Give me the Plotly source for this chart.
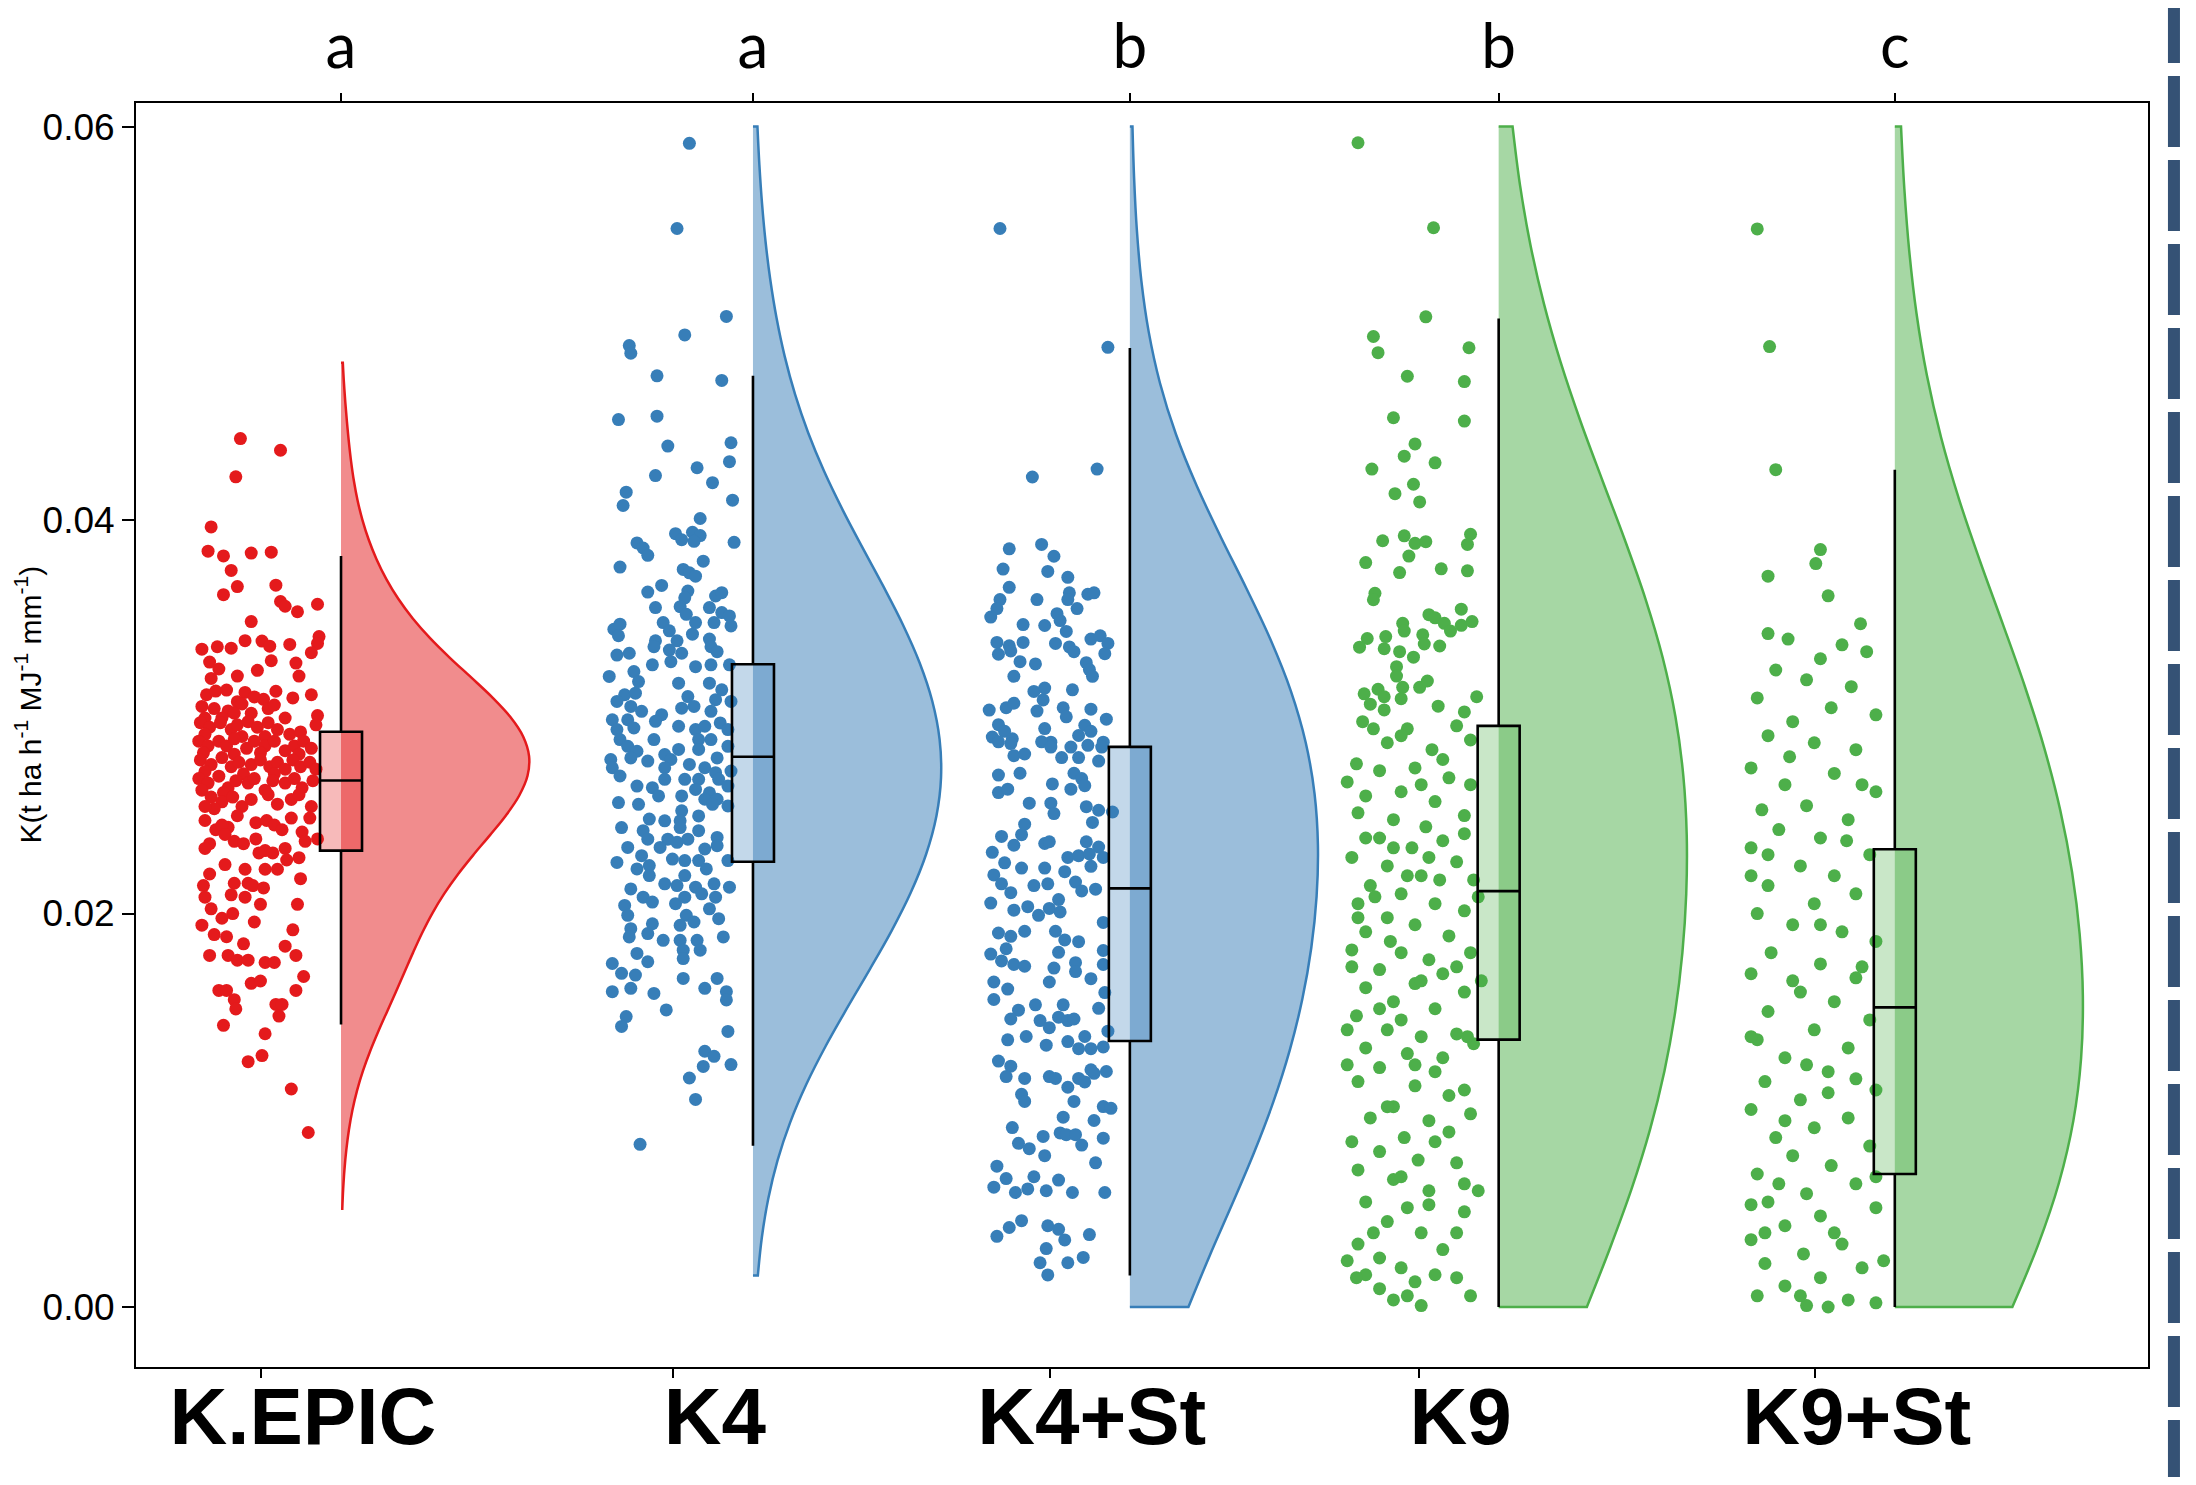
import plotly.graph_objects as go

# ---------------- data ----------------
groups = ["K.EPIC", "K4", "K4+St", "K9", "K9+St"]
letters = ["a", "a", "b", "b", "c"]

kepic_vals = [0.04414,0.04355,0.04220,0.03965,0.03842,0.03818,0.03832,0.03837,0.03744,0.03662,0.03621,0.03669,0.03586,0.03562,0.03534,0.03572,0.03484,0.03408,0.03373,0.03326,0.03344,0.03356,0.03349,0.03387,0.03385,0.03359,0.03368,0.03278,0.03285,0.03236,0.03273,0.03207,0.03243,0.03207,0.03195,
0.03112,0.03131,0.03136,0.03124,0.03089,0.03130,0.03096,0.03112,0.03077,0.03101,
0.03053,0.03042,0.03030,0.03065,0.03018,0.03042,0.03060,0.02994,0.03006,0.02994,0.02994,0.03018,
0.02970,0.02947,0.02970,0.02935,0.02959,0.02975,0.02947,0.02970,0.02935,0.02911,0.02923,0.02959,0.02911,0.02900,0.02900,
0.02876,0.02852,0.02876,0.02852,0.02888,0.02840,0.02876,0.02852,0.02876,0.02828,0.02852,0.02876,0.02840,0.02817,0.02810,0.02817,0.02810,
0.02781,0.02757,0.02793,0.02746,0.02769,0.02757,0.02781,0.02746,0.02769,0.02734,0.02781,0.02746,0.02769,0.02734,0.02722,0.02710,0.02710,
0.02686,0.02663,0.02698,0.02639,0.02675,0.02663,0.02686,0.02627,0.02675,0.02663,0.02686,0.02639,0.02675,0.02627,0.02615,
0.02592,0.02568,0.02592,0.02544,0.02580,0.02604,0.02556,0.02580,0.02604,0.02544,0.02533,0.02544,
0.02473,0.02426,0.02438,0.02497,0.02462,0.02473,0.02450,0.02426,0.02485,0.02485,0.02414,0.02450,
0.02355,0.02402,0.02367,0.02355,0.02379,0.02320,0.02331,0.02367,0.02379,0.02331,
0.02249,0.02225,0.02308,0.02308,0.02272,0.02284,0.02201,0.02142,0.02154,0.02154,0.02225,0.02225,0.02142,0.02130,0.02177,
0.02083,0.02095,0.02083,0.02047,0.02047,0.02024,0.02000,0.01957,0.01976,0.01941,0.01893,0.01882,0.01917,0.01834,0.01846,
0.01787,0.01787,0.01763,0.01763,0.01751,0.01751,0.01787,0.01645,0.01657,0.01680,0.01609,0.01609,0.01562,0.01515,0.01538,0.01538,0.01479,0.01609,0.01432,
0.01389,0.01278,0.01247,0.01108,0.00887]
kepic_jit = [.36,.62,.33,.17,.15,.25,.43,.56,.30,.34,.25,.59,.62,.65,.73,.86,.43,.87,.86,.82,.11,.21,.30,.39,.50,.55,.68,.16,.56,.47,.72,.74,.22,.34,.17,
.14,.20,.27,.39,.51,.59,.70,.82,.34,.45,
.11,.19,.28,.37,.43,.54,.58,.65,.86,.13,.24,.32,
.10,.16,.23,.30,.34,.41,.47,.54,.60,.68,.75,.85,.13,.37,.52,
.09,.15,.22,.27,.32,.40,.45,.52,.58,.65,.71,.77,.82,.12,.32,.49,.74,
.10,.17,.24,.30,.35,.43,.49,.55,.60,.65,.70,.75,.81,.85,.13,.38,.58,
.09,.15,.22,.28,.33,.41,.45,.52,.57,.65,.71,.76,.83,.11,.25,
.17,.24,.31,.37,.43,.54,.60,.69,.74,.82,.19,.13,
.13,.20,.28,.34,.46,.53,.58,.63,.69,.81,.76,.24,
.16,.26,.32,.38,.46,.52,.65,.78,.86,.13,
.26,.39,.48,.57,.66,.74,.16,.12,.32,.41,.52,.60,.44,.51,.75,
.13,.30,.39,.49,.73,.17,.31,.45,.24,.11,.19,.27,.70,.65,.38,
.16,.28,.34,.41,.52,.58,.72,.43,.49,.77,.22,.27,.32,.33,.59,.63,.61,.72,.25,
.52,.50,.41,.69,.80]

k4_vals = [0.05915,0.05482,0.05035,0.04941,0.04887,0.04848,0.04733,0.04710,0.04511,0.04528,0.04376,0.04393,0.04297,0.04226,0.04266,0.04190,0.04142,0.04074,0.04101,0.04008,0.03931,0.03900,0.03938,0.03921,0.03892,0.03884,0.03858,0.03821,0.03887,0.03761,0.03791,0.03749,0.03732,0.03715,0.03634,0.03668,0.03639,0.03605,0.03614,0.03631,0.03555,0.03560,0.03521,0.03555,0.03530,0.03513,0.03479,0.03462,0.03479,0.03479,0.03445,0.03471,0.03412,0.03437,0.03420,0.03386,0.03386,0.03395,
0.03314,0.03323,0.03356,0.03339,0.03323,0.03356,0.03331,0.03264,0.03280,0.03255,0.03264,0.03264,0.03205,0.03230,0.03179,0.03171,0.03171,0.03137,0.03112,0.03120,0.03103,0.03087,0.03078,0.03078,0.03053,0.03028,0.03011,0.03044,0.03053,0.03028,0.02985,0.02985,0.02977,0.02952,0.02935,0.02952,0.02969,0.02935,0.02935,0.02943,0.02884,0.02884,0.02884,0.02884,0.02850,0.02850,0.02825,0.02808,0.02834,0.02834,0.02791,0.02783,0.02791,0.02775,0.02783,0.02758,0.02741,0.02741,0.02741,0.02724,0.02716,0.02699,0.02648,0.02640,0.02682,0.02682,0.02682,0.02682,0.02648,0.02598,0.02598,0.02631,0.02614,0.02564,0.02555,0.02581,0.02581,0.02547,0.02522,0.02496,0.02480,0.02471,0.02471,0.02555,0.02437,0.02421,0.02421,0.02437,0.02378,0.02378,0.02378,0.02387,0.02336,0.02336,0.02362,0.02328,0.02345,0.02294,0.02277,0.02269,0.02269,0.02269,0.02260,0.02227,0.02244,0.02227,0.02193,0.02151,0.02142,0.02193,0.02134,0.02151,0.02134,0.02125,0.02083,0.02058,0.02050,0.02083,0.02100,0.02083,0.02041,0.02024,0.01991,0.01974,0.01991,0.01923,0.01948,0.01940,0.01957,0.01898,0.01864,0.01864,0.01864,0.01881,0.01881,0.01814,0.01814,0.01797,0.01746,0.01755,0.01771,0.01696,0.01687,0.01670,0.01670,0.01603,0.01620,0.01594,0.01620,0.01603,0.01561,0.01510,0.01476,0.01426,0.01401,0.01300,0.01274,0.01223,0.01232,0.01164,0.01055,0.00827]
k4_jit = [.60,.52,.84,.57,.21,.22,.39,.81,.14,.39,.46,.87,.86,.38,.65,.75,.19,.17,.88,.67,.51,.55,.62,.67,.63,.26,.30,.33,.89,.15,.69,.56,.60,.64,.33,.42,.59,.57,.77,.81,.38,.54,.58,.73,.81,.86,.76,.87,.43,.64,.11,.15,.14,.47,.62,.38,.52,.73,
.13,.21,.37,.47,.55,.74,.78,.36,.48,.64,.74,.86,.08,.24,.27,.53,.73,.81,.18,.25,.59,.77,.87,.13,.22,.29,.42,.55,.63,.74,.10,.20,.38,.53,.64,.70,.80,.85,.13,.24,.15,.37,.66,.74,.85,.20,.26,.44,.53,.66,.78,.09,.22,.33,.48,.60,.70,.10,.44,.87,.77,.15,.26,.36,.44,.57,.66,.79,.85,.40,.55,.64,.73,.14,.27,.70,.78,.85,.55,.66,.34,.44,.54,.75,.16,.30,.66,.54,.33,.46,.59,.78,.20,.41,.52,.70,.78,.29,.49,.57,.66,.85,.13,.26,.34,.71,.34,.44,.52,.57,.64,.76,.86,.22,.30,.36,.51,.57,.68,.77,.18,.73,.20,.79,.58,.22,.36,.54,.63,.33,.43,.54,.65,.82,.21,.56,.67,.26,.10,.33,.56,.16,.25,.56,.78,.10,.22,.37,.70,.84,.84,.45,.19,.16,.85,.70,.76,.69,.87,.60,.64,.28]

k4st_vals = [0.05482,0.04878,0.04259,0.04219,0.03854,0.03876,0.03816,0.03751,0.03739,0.03709,0.03658,0.03630,0.03623,0.03630,0.03596,0.03596,0.03596,0.03550,0.03550,0.03507,0.03524,0.03489,0.03469,0.03464,0.03434,0.03378,0.03361,0.03378,0.03373,0.03355,0.03331,0.03395,0.03412,0.03373,0.03321,0.03318,0.03335,0.03280,0.03269,0.03275,0.03240,0.03206,0.03206,0.03129,0.03146,0.03086,0.03137,0.03034,0.03046,0.03069,0.03029,0.03046,0.03000,0.03039,0.02988,0.02960,0.02926,0.02888,0.02940,0.02905,0.02957,0.02926,0.02897,0.02871,0.02871,
.02873,.02864,.02873,.02846,.02846,.02855,.02846,.02802,.02811,.02793,.02793,.02775,.02713,.02704,.02713,.02686,.02659,.02615,.02632,.02632,.02650,.02561,.02561,.02543,.02525,.02516,.02508,.02463,.02454,.02401,.02392,.02311,.02347,.02356,.02365,.02365,.02338,.02285,.02294,.02303,.02285,.02258,.02231,.02231,.02213,.02240,.02196,.02151,.02106,.02142,.02151,.02160,.02115,.02124,.02071,.02053,.02017,.02035,.01991,.02026,.02008,.01955,.01901,.01884,.01910,.01910,.01866,.01857,.01821,.01794,.01803,.01812,.01759,.01741,.01732,.01723,.01750,.01741,.01705,.01669,.01652,.01652,.01616,.01563,.01598,.01509,.01536,.01536,.01518,.01464,.01456,.01420,.01473,.01456,.01464,.01402,.01358,.01375,.01331,.01349,.01375,.01313,.01313,.01322,.01250,.01224,.01171,.01162,.01171,.01162,.01117,.01162,.01144,.01188,.01197,.01206,.01081,.01045,.01045,.01019,.01010,.00965,.00948,.00912,.00832,.00805,.00867,.00769,.00885,.00876,.00876,.00823,.00858,.00733,.00716,.00653,.00609,.00582,.00600,.00662,.00591,.00645,.00582,.00582,.00359,.00404,.00439,.00413,.00395,.00341,.00368,.00297,.00225,.00225,.00252,.00163]
k4st_jit = [.17,.87,.80,.38,.23,.44,.52,.19,.48,.61,.23,.62,.74,.78,.17,.41,.61,.67,.15,.11,.54,.56,.32,.46,.60,.15,.23,.32,.53,.62,.65,.76,.82,.87,.85,.16,.24,.30,.40,.73,.75,.77,.26,.39,.46,.45,.64,.10,.21,.26,.41,.58,.60,.76,.86,.16,.20,.25,.46,.68,.72,.76,.12,.50,.84,
.16,.24,.44,.50,.63,.74,.83,.26,.33,.57,.68,.81,.30,.16,.65,.70,.51,.16,.22,.63,.72,.36,.50,.73,.81,.90,.52,.77,.33,.31,.18,.12,.26,.46,.49,.73,.81,.61,.68,.75,.84,.20,.31,.46,.59,.76,.13,.18,.24,.39,.48,.66,.70,.79,.55,.11,.26,.35,.42,.49,.56,.84,.16,.24,.33,.53,.59,.68,.21,.11,.55,.84,.18,.26,.33,.52,.66,.84,.66,.76,.49,.13,.22,.13,.85,.29,.40,.58,.81,.24,.43,.49,.55,.61,.65,.87,.22,.34,.47,.61,.72,.68,.76,.84,.16,.24,.21,.33,.49,.53,.61,.68,.72,.78,.86,.76,.31,.33,.65,.84,.89,.58,.78,.25,.29,.36,.45,.46,.56,.60,.66,.70,.84,.79,.15,.21,.13,.27,.35,.39,.47,.55,.64,.85,.15,.23,.31,.48,.55,.59,.75,.47,.43,.61,.71,.48]

k9_vals = [.05918,.05486,.05033,.04933,.04851,.04876,.04731,.04704,.04520,.04503,.04387,.04325,.04291,.04259,.04182,.04134,.04092,.03895,.03920,.03882,.03890,.03928,.03876,.03784,.03817,.03733,.03752,.03742,.03628,.03595,.03519,.03503,.03547,.03475,.03436,.03465,.03484,.03475,.03436,.03398,.03354,.03408,.03346,.03417,.03370,.03360,.03331,.03303,.03255,.03207,.03117,.03140,.03102,.03150,.03092,.03150,.03182,.03054,.03102,.03064,.03035,.03025,
.02975,.02939,.02954,.02868,.02833,.02882,.02761,.02726,.02740,.02690,.02619,.02598,.02655,.02569,.02512,.02477,.02441,.02498,.02384,.02370,.02334,.02285,.02242,.02263,.02192,.02142,.02171,.02100,.02050,.02050,.02014,.01979,.01943,.01907,.01886,.01815,.01801,.01765,.01801,.01715,.01694,.01623,.01644,.01601,.01552,.01516,.01480,.01409,.01374,.01388,.01317,.01288,.01338,.01217,.01196,.01146,.01124,.01103,.01018,.00961,.00947,.00890,.00861,.00790,.00747,.00697,.00733,.00648,.00591,.00534,.00505,.00484,.00434,.00377,.00320,.00292,.00249,.00199,.00164,.00128,.00149,.00093,.00149,.00036,.00007,.00057,
.02904,.02783,.02669,.02406,.02285,.02085,.02085,.02192,.01729,.01729,.01459,.01267,.01231,.00982,.00840,.00840,.00591,.00377,.00164,.00235,.00057,.02939,.02655,.02334,.01979,.01658,.01516,.01075,.00662,.00377,.01018,.01374,.01231,.02384,.02171,.01858,.01658,.01409,.00520,.00626]
k9_jit = [.10,.59,.54,.20,.23,.82,.42,.79,.33,.79,.47,.40,.60,.19,.46,.34,.50,.26,.40,.47,.54,.83,.81,.15,.43,.37,.64,.81,.21,.20,.56,.60,.77,.66,.70,.77,.84,.39,.40,.16,.11,.28,.27,.52,.53,.63,.37,.46,.35,.35,.14,.23,.27,.39,.38,.50,.55,.62,.87,.18,.27,.79,
.13,.42,.74,.29,.58,.83,.09,.24,.47,.69,.38,.15,.83,.60,.10,.33,.54,.79,.24,.65,.45,.06,.29,.74,.51,.18,.85,.38,.10,.60,.79,.29,.47,.15,.69,.06,.38,.56,.83,.24,.65,.15,.47,.79,.33,.60,.09,.29,.51,.74,.15,.42,.85,.24,.60,.10,.47,.79,.33,.18,.56,.69,.40,.24,.49,.10,.74,.33,.56,.15,.42,.79,.29,.51,.10,.65,.24,.38,.15,.47,.74,.24,.09,.33,.51,.42,
.38,.65,.03,.79,.56,.88,.21,.42,.06,.74,.38,.65,.03,.83,.06,.60,.88,.74,.60,.03,.83,.20,.51,.33,.10,.51,.24,.69,.38,.20,.29,.81,.47,.15,.63,.31,.90,.03,.56,.79]

k9st_vals = [.05480,.04882,.04256,.03850,.03779,.03715,.03615,.03473,.03423,.03395,.03366,.03295,.03331,.03238,.03188,.03153,.03096,.03046,.03010,.02975,.02904,.02868,.02833,.02740,.02712,.02655,.02619,.02548,.02527,.02477,.02427,.02384,.02334,.02299,.02242,.02192,.02142,.02100,.02050,.02000,.01943,.01907,.01858,.01801,.01744,.01694,.01673,.01601,.01552,.01502,.01459,.01409,.01359,.01317,.01267,.01196,.01146,.01103,.01053,.01004,.00961,.00911,.00861,.00818,.00769,.00719,.00676,.00626,.00576,.00534,.00505,.00463,.00413,.00342,.00320,.00270,.00221,.00199,.00149,.00107,.00057,.00036,.00007,.0,.00021,
.02797,.02655,.02299,.01943,.01658,.01729,.01374,.01089,.00947,.00662,.00520,.00377,.00057,.02370,.02192,.01231,.01160,.00626,.00235,.00377]
k9st_jit = [.12,.20,.24,.53,.50,.19,.58,.79,.19,.32,.67,.53,.83,.24,.44,.73,.12,.60,.89,.35,.19,.49,.76,.08,.62,.30,.89,.44,.15,.71,.26,.53,.08,.85,.40,.62,.19,.76,.49,.12,.35,.67,.89,.21,.53,.08,.76,.40,.62,.19,.85,.49,.12,.71,.30,.58,.17,.89,.40,.08,.71,.49,.24,.85,.35,.60,.12,.76,.44,.19,.89,.53,.30,.08,.67,.42,.17,.80,.53,.30,.12,.71,.44,.58,.89,
.33,.80,.19,.53,.35,.80,.08,.58,.30,.89,.08,.62,.40,.70,.08,.44,.76,.26,.94,.17]

point_vals = [kepic_vals, k4_vals, k4st_vals, k9_vals, k9st_vals]
point_jit = [kepic_jit, k4_jit, k4st_jit, k9_jit, k9st_jit]

# box statistics
box_q1 = [0.02320, 0.02263, 0.01352, 0.01359, 0.00676]
box_med = [0.02676, 0.02797, 0.02128, 0.02114, 0.01523]
box_q3 = [0.02924, 0.03267, 0.02847, 0.02954, 0.02327]
box_lo = [0.01436, 0.00819, 0.00160, 0.00000, 0.00000]
box_hi = [0.03817, 0.04733, 0.04875, 0.05025, 0.04256]
# extent of each density cloud
violin_lo = [0.0050, 0.0016, 0.0, 0.0, 0.0]
violin_hi = [0.0480, 0.0600, 0.0600, 0.0600, 0.0600]
violin_bw = [0.0030, 0.0060, 0.0080, 0.0090, 0.0095]

# ---------------- styling / layout ----------------
line_colors = ["#e41a1c", "#377eb8", "#377eb8", "#4daf4a", "#4daf4a"]
rgb = ["228,26,28", "55,126,184", "55,126,184", "77,175,74", "77,175,74"]
cat_pos = [0.0, 1.069, 2.047, 3.004, 4.032]   # group slots along the x axis
JIT_LEFT, JIT_SPAN = -0.405, 0.40
VIOLIN_W, BOX_W = 0.976, 0.109
LABEL_OFF = -0.208
XR = [-0.532, 4.689]
YR = [-0.00305, 0.0612]

fig = go.Figure()
for i in range(len(groups)):
    fig.add_trace(go.Violin(
        x0=cat_pos[i], y=point_vals[i], xaxis="x2", side="positive", width=VIOLIN_W,
        spanmode="manual", span=[violin_lo[i], violin_hi[i]], bandwidth=violin_bw[i],
        fillcolor=f"rgba({rgb[i]},0.5)", line=dict(color=line_colors[i], width=2.5),
        points=False, box_visible=False, meanline_visible=False,
        hoverinfo="skip", showlegend=False, scalemode="width"))
for i in range(len(groups)):
    fig.add_trace(go.Box(
        x=[cat_pos[i]], q1=[box_q1[i]], median=[box_med[i]], q3=[box_q3[i]],
        lowerfence=[box_lo[i]], upperfence=[box_hi[i]], xaxis="x2",
        width=BOX_W, whiskerwidth=0, fillcolor=f"rgba({rgb[i]},0.3)",
        line=dict(color="black", width=2.6), boxpoints=False, showlegend=False,
        hoverinfo="skip"))
for i in range(len(groups)):
    n = min(len(point_vals[i]), len(point_jit[i]))
    xs = [cat_pos[i] + JIT_LEFT + JIT_SPAN * j for j in point_jit[i][:n]]
    fig.add_trace(go.Scatter(
        x=xs, y=point_vals[i][:n], mode="markers",
        marker=dict(size=13, color=line_colors[i], line=dict(width=0)),
        showlegend=False, hoverinfo="skip"))

# the page body adds an 8 px offset, so the figure is 8 px smaller/shifted
fig.update_layout(
    width=2180, height=1469,
    margin=dict(l=128, r=40, t=95, b=110, autoexpand=False),
    paper_bgcolor="white", plot_bgcolor="white",
    violinmode="overlay", boxmode="overlay",
    xaxis=dict(range=XR, tickvals=[p + LABEL_OFF for p in cat_pos], ticktext=groups,
               ticks="outside", ticklen=9, tickwidth=2, tickcolor="black",
               showline=True, linecolor="black", linewidth=2, showgrid=False, zeroline=False,
               tickfont=dict(family="Liberation Sans, Arial, sans-serif", size=80, color="black", weight="bold"),
               ticklabelshift=42, ticklabelstandoff=-30, automargin=False),
    xaxis2=dict(range=XR, overlaying="x", side="top", anchor="y",
                tickvals=cat_pos, ticktext=letters,
                ticks="outside", ticklen=8, tickwidth=2, tickcolor="black",
                showline=True, linecolor="black", linewidth=2, showgrid=False, zeroline=False,
                tickfont=dict(family="Lato, Open Sans, sans-serif", size=62, color="black"),
                ticklabelstandoff=0, automargin=False),
    yaxis=dict(range=YR, tickvals=[0, 0.02, 0.04, 0.06], ticktext=["0.00", "0.02", "0.04", "0.06"],
               ticks="outside", ticklen=12, tickwidth=2, tickcolor="black",
               showline=True, mirror=True, linecolor="black", linewidth=2,
               showgrid=False, zeroline=False, automargin=False,
               tickfont=dict(family="Liberation Sans, Arial, sans-serif", size=37, color="black")),
    annotations=[dict(
        text="K(t ha h<sup>-1</sup> MJ<sup>-1</sup> mm<sup>-1</sup>)",
        xref="paper", yref="paper", x=-0.0537, y=0.524, xanchor="center", yanchor="middle",
        textangle=-90, showarrow=False,
        font=dict(family="Liberation Sans, Arial, sans-serif", size=30, color="black"))],
    shapes=[dict(type="line", xref="paper", yref="paper", x0=1.0129, x1=1.0129,
                 y0=1.0878, y1=-0.0934, line=dict(color="#355275", width=12, dash="71px,13px"))],
)

fig.write_html("out.html")
